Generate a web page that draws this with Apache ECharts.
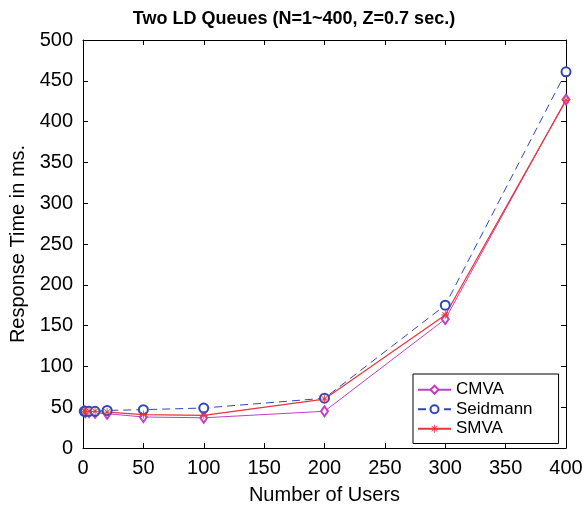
<!DOCTYPE html>
<html>
<head>
<meta charset="utf-8">
<script src="https://cdn.jsdelivr.net/npm/echarts@6/dist/echarts.min.js"></script>
<style>
  html, body { margin: 0; padding: 0; background: #fff; }
  #chart { width: 588px; height: 510px; }
</style>
</head>
<body>
<div id="chart"></div>
<script>
// Number of users at which each model was evaluated
const users = [1, 2, 5, 10, 20, 50, 100, 200, 300, 400];

// Response times (ms) per model
const cmva     = [45, 44, 44, 43, 42, 38, 37, 45, 158, 427];
const seidmann = [45, 45, 45, 45, 46, 47, 49, 61, 175, 461];
const smva     = [45, 45, 45, 45, 44, 41, 40, 60, 163, 426];

const seriesNames = ['CMVA', 'Seidmann', 'SMVA'];

const FONT = '"Liberation Sans", Helvetica, Arial, sans-serif';

function pairs(xs, ys) {
  return xs.map((x, i) => [x, ys[i]]);
}

// Asterisk-like marker made of thin rays
const asterisk = 'path://M9,0 L11,0 L11,7.6 L16.4,2.2 L17.8,3.6 L12.4,9 L20,9 L20,11 L12.4,11 L17.8,16.4 L16.4,17.8 L11,12.4 L11,20 L9,20 L9,12.4 L3.6,17.8 L2.2,16.4 L7.6,11 L0,11 L0,9 L7.6,9 L2.2,3.6 L3.6,2.2 L9,7.6 Z';

const chart = echarts.init(document.getElementById('chart'), null, { renderer: 'canvas' });

const axisCommon = {
  axisLine: { show: true, onZero: false, lineStyle: { color: '#000', width: 1 } },
  axisTick: { show: true, inside: true, length: 5, lineStyle: { color: '#000' } },
  splitLine: { show: false }
};

const labelStyle = { fontFamily: FONT, fontSize: 20, color: '#000', margin: 10 };
const nameStyle = { fontFamily: FONT, fontSize: 20, color: '#000' };

chart.setOption({
  animation: false,
  backgroundColor: '#fff',
  title: {
    text: 'Two LD Queues (N=1~400, Z=0.7 sec.)',
    left: 'center',
    top: 5,
    textStyle: { fontFamily: FONT, fontSize: 18, fontWeight: 'bold', color: '#000' }
  },
  grid: { left: 83, right: 22, top: 40, bottom: 62, containLabel: false },
  legend: {
    data: seriesNames,
    orient: 'vertical',
    left: 413,
    top: 374,
    padding: [7, 26, 6, 4],
    itemGap: 2,
    itemWidth: 33,
    itemHeight: 10,
    backgroundColor: '#fff',
    borderColor: '#000',
    borderWidth: 1,
    borderRadius: 0,
    textStyle: { fontFamily: FONT, fontSize: 17, lineHeight: 17.5, color: '#000' }
  },
  xAxis: [
    Object.assign({}, axisCommon, {
      type: 'value', min: 0, max: 400, interval: 50,
      name: 'Number of Users', nameLocation: 'middle', nameGap: 37,
      nameTextStyle: nameStyle,
      axisLabel: labelStyle
    }),
    Object.assign({}, axisCommon, {
      type: 'value', min: 0, max: 400, interval: 50, position: 'top',
      axisLabel: { show: false }
    })
  ],
  yAxis: [
    Object.assign({}, axisCommon, {
      type: 'value', min: 0, max: 500, interval: 50,
      name: 'Response Time in ms.', nameLocation: 'middle', nameGap: 54,
      nameTextStyle: nameStyle,
      axisLabel: labelStyle
    }),
    Object.assign({}, axisCommon, {
      type: 'value', min: 0, max: 500, interval: 50, position: 'right',
      axisLabel: { show: false }
    })
  ],
  series: [
    {
      name: 'CMVA', type: 'line', data: pairs(users, cmva),
      symbol: 'emptyDiamond', symbolSize: [7, 10], showAllSymbol: true,
      itemStyle: { color: '#c23fc2', borderWidth: 1 },
      lineStyle: { color: '#c23fc2', width: 1 }
    },
    {
      name: 'Seidmann', type: 'line', data: pairs(users, seidmann),
      symbol: 'emptyCircle', symbolSize: 9, showAllSymbol: true,
      itemStyle: { color: '#3246b8', borderWidth: 1 },
      lineStyle: { color: '#3246b8', width: 1, type: [8, 5] }
    },
    {
      name: 'SMVA', type: 'line', data: pairs(users, smva),
      symbol: asterisk, symbolSize: 8, showAllSymbol: true,
      itemStyle: { color: '#e8343a' },
      lineStyle: { color: '#e8343a', width: 1.2 }
    }
  ]
});
</script>
</body>
</html>
